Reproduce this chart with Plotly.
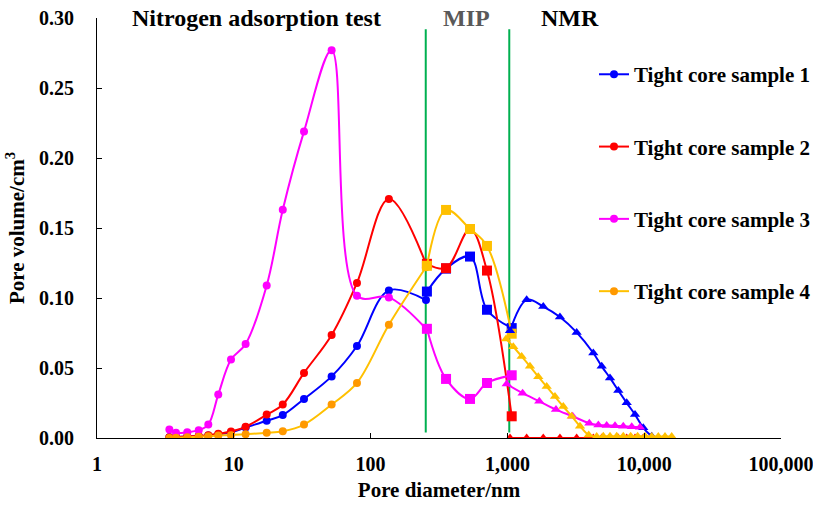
import plotly.graph_objects as go

# ---------------- data ----------------
samples = ["Tight core sample 1", "Tight core sample 2", "Tight core sample 3", "Tight core sample 4"]

# Nitrogen adsorption (circles)
n2_d = [3.38, 3.78, 4.57, 5.54, 6.51, 7.70, 9.54, 12.2, 17.4, 22.8, 32.6, 51.9, 79.5, 136, 254]
n2_s1 = [0.0005, 0.0008, 0.0010, 0.0013, 0.0018, 0.0025, 0.0040, 0.0075, 0.0123, 0.0164, 0.0279, 0.0440, 0.0657, 0.1054, 0.0985]
n2_s2 = [0.0005, 0.0008, 0.0010, 0.0015, 0.0020, 0.0030, 0.0046, 0.0080, 0.0167, 0.0239, 0.0465, 0.0736, 0.1108, 0.1707, 0.1244]
n2_s3 = [0.0061, 0.0037, 0.0041, 0.0056, 0.0096, 0.0310, 0.0560, 0.0671, 0.1090, 0.1630, 0.2190, 0.2770, 0.1016, 0.1004, 0.0780]
n2_s4 = [0.0000, 0.0001, 0.0006, 0.0009, 0.0013, 0.0018, 0.0020, 0.0027, 0.0037, 0.0048, 0.0096, 0.0239, 0.0393, 0.0809, 0.1220]

# MIP (squares)
mip_d = [258, 356, 533, 709, 1075]
mip_s1 = [0.1046, 0.1210, 0.1296, 0.0916, 0.0785]
mip_s2 = [0.1244, 0.1213, 0.1493, 0.1196, 0.0155]
mip_s3 = [0.0780, 0.0422, 0.0279, 0.0393, 0.0448]
mip_s4 = [0.1230, 0.1629, 0.1493, 0.1372, 0.0745]

# NMR (triangles)
nmr_d1 = [1045, 1383, 1829, 2422, 3208, 4246, 4890, 5623, 6468, 7447, 8570, 9843, 11350]
nmr_s1 = [0.0766, 0.0987, 0.0939, 0.0864, 0.0754, 0.0607, 0.0512, 0.0429, 0.0339, 0.0251, 0.0167, 0.0073, 0.0013]
nmr_d2 = [1045, 1383, 1829, 2422, 3208, 4246, 4890, 5623, 6468, 7447, 8570, 9843]
nmr_s2 = [0, 0, 0, 0, 0, 0, 0, 0, 0, 0, 0, 0]
nmr_d3 = [988, 1292, 1710, 2265, 3000, 3970, 4624, 5319, 6119, 7031, 8107, 9311]
nmr_s3 = [0.0385, 0.0320, 0.0262, 0.0203, 0.0155, 0.0105, 0.0093, 0.0090, 0.0088, 0.0084, 0.0080, 0.0076]
nmr_d4 = [977, 1104, 1271, 1462, 1682, 1937, 2228, 2562, 2952, 3394, 3930, 4495, 5023, 5623,
          6296, 7031, 7964, 8954, 10139, 11350, 12680, 14190, 15880]
nmr_s4 = [0.0708, 0.0652, 0.0583, 0.0512, 0.0438, 0.0367, 0.0296, 0.0225, 0.0155, 0.0084, 0.0022, 0.0010,
          0.0012, 0.0012, 0.0012, 0.0013, 0.0013, 0.0012, 0.0012, 0.0010, 0.0010, 0.0010, 0.0010]

# method boundaries (nm)
boundary_d = [253, 1032]
boundary_y = [0.004, 0.292]

x_tickvals = [1, 10, 100, 1000, 10000, 100000]
x_ticktext = ["1", "10", "100", "1,000", "10,000", "100,000"]

# ---------------- styles ----------------
line_colors = ["#0000FF", "#FF0000", "#FF00FF", "#FFC000"]
circle_colors = ["#0000FF", "#FF0000", "#FF00FF", "#FF9900"]
FONT = "Times New Roman, Liberation Serif, serif"

fig = go.Figure()

n2_all = [n2_s1, n2_s2, n2_s3, n2_s4]
mip_all = [mip_s1, mip_s2, mip_s3, mip_s4]
nmr_all = [(nmr_d1, nmr_s1), (nmr_d2, nmr_s2), (nmr_d3, nmr_s3), (nmr_d4, nmr_s4)]

# green boundary lines
for bd in boundary_d:
    fig.add_trace(go.Scatter(x=[bd, bd], y=boundary_y, mode="lines",
                             line=dict(color="#00B050", width=2),
                             showlegend=False, hoverinfo="skip"))

for i in range(4):
    fig.add_trace(go.Scatter(
        x=n2_d, y=n2_all[i], mode="lines+markers", name=samples[i],
        legendgroup=samples[i],
        line=dict(color=line_colors[i], width=2, shape="spline"),
        marker=dict(symbol="circle", size=8, color=circle_colors[i]),
    ))
for i in range(4):
    fig.add_trace(go.Scatter(
        x=mip_d, y=mip_all[i], mode="lines+markers", showlegend=False,
        legendgroup=samples[i],
        line=dict(color=line_colors[i], width=2, shape="spline"),
        marker=dict(symbol="square", size=10, color=line_colors[i]),
    ))
for i in range(4):
    d, v = nmr_all[i]
    fig.add_trace(go.Scatter(
        x=d, y=v, mode="lines+markers", showlegend=False,
        legendgroup=samples[i],
        line=dict(color=line_colors[i], width=2, shape="spline"),
        marker=dict(symbol="triangle-up", size=9, color=line_colors[i]),
    ))

fig.update_layout(
    width=813, height=506,
    margin=dict(l=97, r=32, t=17.5, b=67.5, autoexpand=False),
    paper_bgcolor="white", plot_bgcolor="white",
    font=dict(family=FONT, size=20, color="black", weight="bold"),
    showlegend=True,
    legend=dict(x=0.7266, y=0.914, xanchor="left", yanchor="top",
                font=dict(family=FONT, size=21, color="black", weight="bold"),
                tracegroupgap=42, bgcolor="rgba(0,0,0,0)", itemwidth=30),
    xaxis=dict(type="log", range=[0, 5], tickvals=x_tickvals, ticktext=x_ticktext,
               showline=True, linecolor="black", linewidth=1, ticks="inside", ticklen=5,
               tickcolor="black", showgrid=False, zeroline=False,
               ticklabelstandoff=8, ticklabeloverflow="allow",
               tickfont=dict(family=FONT, size=20, weight="bold"),
               title=dict(text="Pore diameter/nm", font=dict(family=FONT, size=21, weight="bold"),
                          standoff=8)),
    yaxis=dict(range=[0, 0.30], dtick=0.05, tickformat=".2f",
               showline=True, linecolor="black", linewidth=1, ticks="inside", ticklen=5,
               tickcolor="black", showgrid=False, zeroline=False,
               ticklabelstandoff=18,
               tickfont=dict(family=FONT, size=20, weight="bold"),
               title=dict(text="Pore volume/cm<sup>3</sup>", font=dict(family=FONT, size=21, weight="bold"),
                          standoff=8)),
    annotations=[
        dict(text="Nitrogen adsorption test", xref="paper", yref="paper", x=0.2325, y=1.0,
             xanchor="center", yanchor="middle", showarrow=False,
             font=dict(family=FONT, size=24, color="black", weight="bold")),
        dict(text="MIP", xref="paper", yref="paper", x=0.5395, y=1.0,
             xanchor="center", yanchor="middle", showarrow=False,
             font=dict(family=FONT, size=24, color="#595959", weight="bold")),
        dict(text="NMR", xref="paper", yref="paper", x=0.6915, y=1.0,
             xanchor="center", yanchor="middle", showarrow=False,
             font=dict(family=FONT, size=24, color="black", weight="bold")),
    ],
)

fig.write_html("out.html")
